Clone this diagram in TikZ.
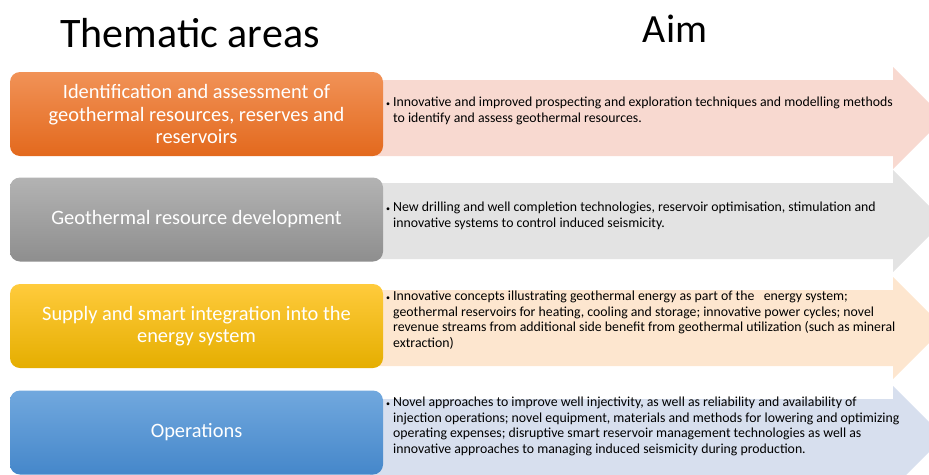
\documentclass[tikz,border=0pt]{standalone}
\usepackage{fontspec}
\setmainfont{Carlito}
\definecolor{oTop}{HTML}{F19257}
\definecolor{oBot}{HTML}{E3691D}
\definecolor{oArr}{HTML}{F8D9D0}
\definecolor{gTop}{HTML}{B3B3B3}
\definecolor{gBot}{HTML}{8E8E8E}
\definecolor{gArr}{HTML}{E3E3E3}
\definecolor{yTop}{HTML}{FFCB3C}
\definecolor{yBot}{HTML}{E5AE00}
\definecolor{yArr}{HTML}{FDE6CF}
\definecolor{bTop}{HTML}{71A8DE}
\definecolor{bBot}{HTML}{4587CA}
\definecolor{bArr}{HTML}{D7DFEE}
\begin{document}
\begin{tikzpicture}[x=1pt,y=-1pt,
  area/.style={rounded corners=10pt, minimum width=373pt, minimum height=84pt,
    text=white, align=center, font=\fontsize{20.4}{22.5}\selectfont, inner sep=0pt},
  aimtext/.style={anchor=west, inner sep=0pt, font=\fontsize{13.8}{15.5}\selectfont},
  headline/.style={inner sep=0pt, anchor=base}]
\useasboundingbox (0,0) rectangle (929,474);
\begin{scope}
  \clip (0,0) rectangle (929,474);
  \foreach \c/\col in {118/oArr, 221/gArr, 328/yArr, 437/bArr}{
    \fill[\col] (370,\c-38) -- (893,\c-38) -- (893,\c-51) -- (944,\c)
      -- (893,\c+51) -- (893,\c+38) -- (370,\c+38) -- cycle;
  }
\end{scope}
\node[headline, font=\fontsize{42}{50}\selectfont] (h1) at (190,47) {Thematic areas};
\node[headline, font=\fontsize{40}{48}\selectfont] (h2) at (675,42) {Aim};
\node[area, top color=oTop, bottom color=oBot] (t1) at (196.5,114)
  {Identification and assessment of\\geothermal resources, reserves and\\reservoirs};
\node[area, top color=gTop, bottom color=gBot] (t2) at (196.5,219.5)
  {Geothermal resource development};
\node[area, top color=yTop, bottom color=yBot] (t3) at (196.5,326)
  {Supply and smart integration into the\\energy system};
\node[area, top color=bTop, bottom color=bBot] (t4) at (196.5,432.5)
  {Operations};
\node[aimtext] (m1) at (386,111.5) {\begin{tabular}{@{}l@{\hspace{3pt}}l@{}}
  {\footnotesize\textbullet} & Innovative and improved prospecting and exploration techniques and modelling methods\\
  & to identify and assess geothermal resources.\end{tabular}};
\node[aimtext] (m2) at (386,216.5) {\begin{tabular}{@{}l@{\hspace{3pt}}l@{}}
  {\footnotesize\textbullet} & New drilling and well completion technologies, reservoir optimisation, stimulation and\\
  & innovative systems to control induced seismicity.\end{tabular}};
\node[aimtext] (m3) at (386,321) {\begin{tabular}{@{}l@{\hspace{3pt}}l@{}}
  {\footnotesize\textbullet} & Innovative concepts illustrating geothermal energy as part of the \ \ energy system;\\
  & geothermal reservoirs for heating, cooling and storage; innovative power cycles; novel\\
  & revenue streams from additional side benefit from geothermal utilization (such as mineral\\
  & extraction)\end{tabular}};
\node[aimtext] (m4) at (386,427) {\begin{tabular}{@{}l@{\hspace{3pt}}l@{}}
  {\footnotesize\textbullet} & Novel approaches to improve well injectivity, as well as reliability and availability of\\
  & injection operations; novel equipment, materials and methods for lowering and optimizing\\
  & operating expenses; disruptive smart reservoir management technologies as well as\\
  & innovative approaches to managing induced seismicity during production.\end{tabular}};
\end{tikzpicture}
\end{document}
